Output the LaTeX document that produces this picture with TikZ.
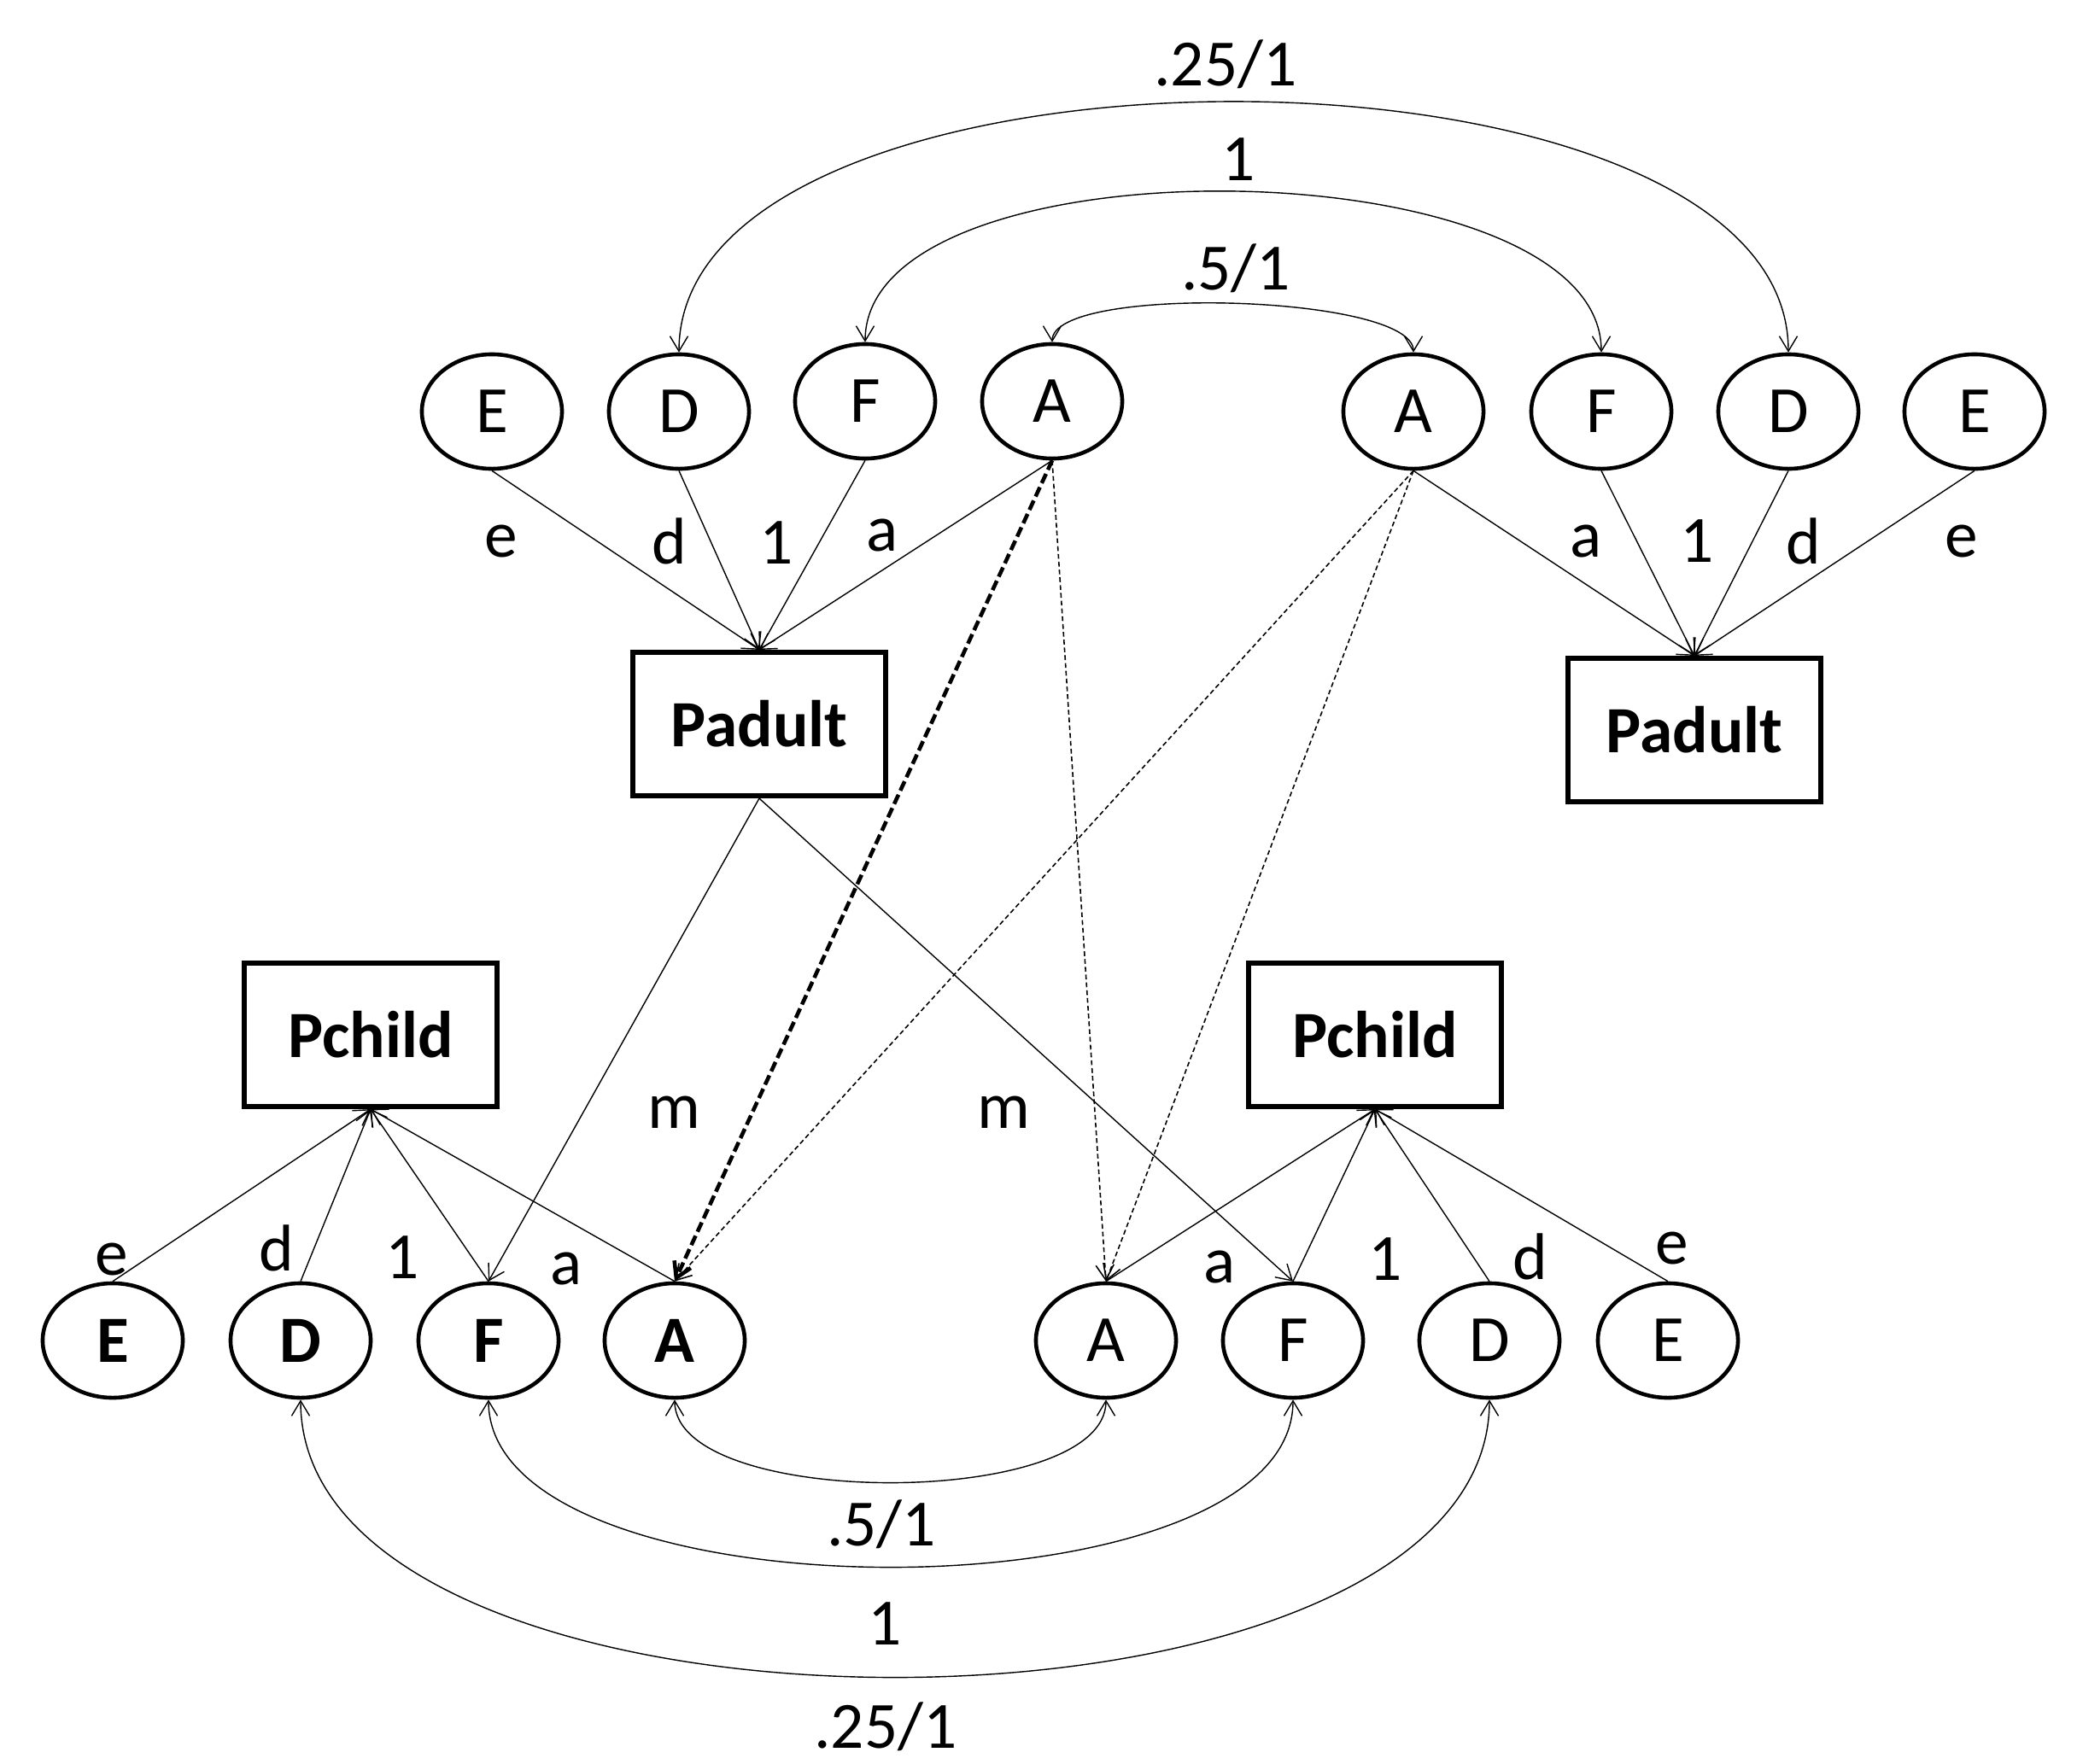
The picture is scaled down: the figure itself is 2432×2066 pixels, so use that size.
\documentclass[tikz,border=0pt]{standalone}
\usepackage{fontspec}
\setmainfont{Carlito}
\usetikzlibrary{arrows.meta,shapes.geometric}
\tikzset{
	latent/.style={ellipse, draw, line width=1.3pt, minimum width=1.64cm, minimum height=1.34cm, inner sep=0pt, font=\fontsize{22}{26}\selectfont},
	latentb/.style={latent, font=\fontsize{22}{26}\selectfont\bfseries},
	pheno/.style={rectangle, draw, line width=1.7pt, minimum width=2.96cm, minimum height=1.68cm, inner sep=0pt, font=\fontsize{22}{26}\selectfont\bfseries},
	lbl/.style={inner sep=0pt, font=\fontsize{22}{26}\selectfont},
	onepath/.style={thin, -{Straight Barb[length=5pt,width=6pt]}},
	twopath/.style={thin, {Straight Barb[length=5pt,width=6pt]}-{Straight Barb[length=5pt,width=6pt]}},
	genes/.style={onepath, line width=0.45pt, dash pattern=on 1.6pt off 1pt},
	genesmain/.style={line width=1.3pt, dash pattern=on 3.4pt off 1.5pt, -{Straight Barb[length=5pt,width=6pt]}},
}

\begin{document}
\begin{tikzpicture}[x=0.01cm,y=-0.01cm]
	%%%%% START %%%%%
	\useasboundingbox (0,0) rectangle (2432,2066);
	
	% parents
	\node[latent] (adE) at (576, 482) {E};
	\node[latent] (adD) at (795, 482) {D};
	\node[latent] (adF) at (1013, 470) {F};
	\node[latent] (adA) at (1232, 470) {A};
	\node[latent] (ad2A) at (1655, 482) {A};
	\node[latent] (ad2F) at (1875, 482) {F};
	\node[latent] (ad2D) at (2094, 482) {D};
	\node[latent] (ad2E) at (2312, 482) {E};
	\node[pheno] (padult) at (889, 848) {Padult};
	\node[pheno] (padult2) at (1984, 855) {Padult};
	
	% children
	\node[pheno] (pchild) at (434, 1212) {Pchild};
	\node[pheno] (pchild2) at (1610, 1212) {Pchild};
	\node[latentb] (chE) at (132, 1570) {E};
	\node[latentb] (chD) at (352, 1570) {D};
	\node[latentb] (chF) at (572, 1570) {F};
	\node[latentb] (chA) at (790, 1570) {A};
	\node[latent] (ch2A) at (1295, 1570) {A};
	\node[latent] (ch2F) at (1514, 1570) {F};
	\node[latent] (ch2D) at (1744, 1570) {D};
	\node[latent] (ch2E) at (1953, 1570) {E};
	
	% parent paths
	\draw[onepath] (adE.south) -- (padult.north);
	\draw[onepath] (adD.south) -- (padult.north);
	\draw[onepath] (adF.south) -- (padult.north);
	\draw[onepath] (adA.south) -- (padult.north);
	\draw[onepath] (ad2A.south) -- (padult2.north);
	\draw[onepath] (ad2F.south) -- (padult2.north);
	\draw[onepath] (ad2D.south) -- (padult2.north);
	\draw[onepath] (ad2E.south) -- (padult2.north);
	
	\node[lbl] (le1) at (587, 634) {e};
	\node[lbl] (ld1) at (784, 634) {d};
	\node[lbl] (lf1) at (909, 636) {1};
	\node[lbl] (la1) at (1033, 627) {a};
	\node[lbl] (la2) at (1857, 634) {a};
	\node[lbl] (lf2) at (1987, 634) {1};
	\node[lbl] (ld2) at (2112, 634) {d};
	\node[lbl] (le2) at (2297, 634) {e};
	
	% spouse correlations
	\draw[twopath] (adA.north) .. controls +(0,-68) and +(0,-68) .. (ad2A.north);
	\draw[twopath] (adF.north) .. controls +(0,-243) and +(0,-243) .. (ad2F.north);
	\draw[twopath] (adD.north) .. controls +(0,-391) and +(0,-391) .. (ad2D.north);
	\node[lbl] (rA) at (1447, 314) {.5/1};
	\node[lbl] (rF) at (1450, 187) {1};
	\node[lbl] (rD) at (1435, 75) {.25/1};
	
	% child paths
	\draw[onepath] (chE.north) -- (pchild.south);
	\draw[onepath] (chD.north) -- (pchild.south);
	\draw[onepath] (chF.north) -- (pchild.south);
	\draw[onepath] (chA.north) -- (pchild.south);
	\draw[onepath] (ch2A.north) -- (pchild2.south);
	\draw[onepath] (ch2F.north) -- (pchild2.south);
	\draw[onepath] (ch2D.north) -- (pchild2.south);
	\draw[onepath] (ch2E.north) -- (pchild2.south);
	
	\node[lbl] (ce1) at (131, 1475) {e};
	\node[lbl] (cd1) at (324, 1462) {d};
	\node[lbl] (cf1) at (471, 1473) {1};
	\node[lbl] (ca1) at (663, 1486) {a};
	\node[lbl] (ca2) at (1428, 1484) {a};
	\node[lbl] (cf2) at (1622, 1475) {1};
	\node[lbl] (cd2) at (1792, 1472) {d};
	\node[lbl] (ce2) at (1958, 1462) {e};
	
	% transmission
	\draw[onepath] (padult.south) -- (chF.north);
	\draw[onepath] (padult.south) -- (ch2F.north);
	\node[lbl] (m1) at (789, 1303) {m};
	\node[lbl] (m2) at (1175, 1303) {m};
	
	\draw[genesmain] (adA.south) -- (chA.north);
	\draw[genes] (adA.south) -- (ch2A.north);
	\draw[genes] (ad2A.south) -- (chA.north);
	\draw[genes] (ad2A.south) -- (ch2A.north);
	
	% sibling correlations
	\draw[twopath] (chA.south) .. controls +(0,129) and +(0,129) .. (ch2A.south);
	\draw[twopath] (chF.south) .. controls +(0,261) and +(0,261) .. (ch2F.south);
	\draw[twopath] (chD.south) .. controls +(0,433) and +(0,433) .. (ch2D.south);
	\node[lbl] (sA) at (1032, 1785) {.5/1};
	\node[lbl] (sF) at (1036, 1902) {1};
	\node[lbl] (sD) at (1037, 2022) {.25/1};
	
	%%%%% END %%%%%
\end{tikzpicture}
\end{document}
